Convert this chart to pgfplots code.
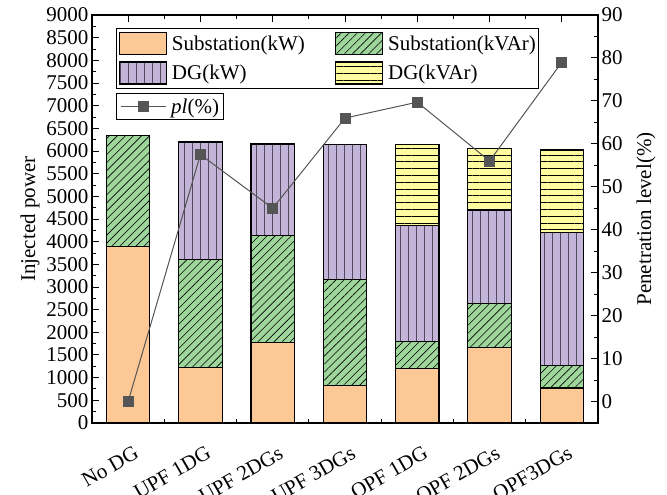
\documentclass[border=0pt]{standalone}
\usepackage{fontspec}
\setmainfont{Liberation Serif}
\usepackage{pgfplots}
\usepackage{pgfplotstable}
\pgfplotsset{compat=1.18}
\usetikzlibrary{patterns.meta}

\definecolor{subkw}{RGB}{251,200,150}
\definecolor{subkvar}{RGB}{158,214,155}
\definecolor{dgkw}{RGB}{196,180,215}
\definecolor{dgkvar}{RGB}{255,252,160}
\definecolor{plline}{RGB}{85,85,85}
\definecolor{vline}{RGB}{80,75,95}

% injected power (kW / kVAr) per case and DG penetration level (%)
\pgfplotstableread{
idx subkw subkvar dgkw dgkvar pl
0   3900  2450    0    0      0
1   1220  2380    2600 0      57.5
2   1780  2360    2015 0      45
3   820   2350    2965 0      66
4   1210  590     2560 1775   69.7
5   1670  970     2060 1360   56
6   770   490     2945 1815   79
}\powertable

\newcommand{\lblfont}{\fontsize{21}{25}\selectfont}

\pgfplotsset{
  barbox/.style={
    draw=black, line width=1.2pt,
    legend image code/.code={\draw[##1] (0pt,-11pt) rectangle (47pt,11pt);}
  },
  lineimage/.style={
    legend image code/.code={\draw[mark repeat=2, mark phase=2, ##1] plot coordinates {(0pt,0pt) (22.5pt,0pt) (45pt,0pt)};}
  },
}

\begin{document}
\begin{tikzpicture}[font=\lblfont]
\path[use as bounding box] (-92pt,-72pt) rectangle (575pt,423pt);
\begin{axis}[
  scale only axis, width=506pt, height=408pt,
  at={(0pt,0pt)}, anchor=south west,
  ybar stacked, bar width=0.6,
  xmin=-0.5, xmax=6.5, ymin=0, ymax=9000,
  xtick={0,...,6},
  xticklabels={No DG, UPF 1DG, UPF 2DGs, UPF 3DGs, OPF 1DG, OPF 2DGs, OPF3DGs},
  minor x tick num=1,
  ytick={0,500,...,9000}, minor y tick num=1,
  xtick pos=both, ytick pos=left,
  tick align=inside,
  major tick length=7pt, minor tick length=4pt,
  axis line style={line width=1.2pt},
  every tick/.style={line width=1pt, black},
  scaled y ticks=false,
  /pgf/number format/1000 sep={},
  /pgf/number format/assume math mode=true,
  tick label style={font=\lblfont},
  xticklabel style={xshift=5pt, yshift=-22pt, rotate=30, anchor=north east, inner sep=0pt},
  ylabel={Injected power},
  ylabel style={at={(axis description cs:-0.1225,0.5)}, anchor=center, font=\lblfont},
  legend columns=2,
  legend cell align=left,
  legend style={
    at={(0.047,0.967)}, anchor=north west,
    draw=black, fill=white, line width=0.8pt,
    inner xsep=2.6pt, inner ysep=3.4pt,
    nodes={inner sep=0pt, anchor=west},
    font=\lblfont,
    row sep=6pt,
    /tikz/every odd column/.append style={column sep=5pt},
    /tikz/every even column/.append style={column sep=30pt},
  },
]
\addplot[barbox, fill=subkw] table[x=idx, y=subkw]{\powertable};
\addlegendentry{Substation(kW)}
\addplot[barbox, fill=subkvar,
  postaction={pattern={Lines[angle=45, distance=5.7pt, line width=0.6pt]}, pattern color=black}]
  table[x=idx, y=subkvar]{\powertable};
\addlegendentry{Substation(kVAr)}
\addplot[barbox, fill=dgkw,
  postaction={pattern={Lines[angle=90, distance=8pt, line width=0.9pt]}, pattern color=vline}]
  table[x=idx, y=dgkw]{\powertable};
\addlegendentry{DG(kW)}
\addplot[barbox, fill=dgkvar,
  postaction={pattern={Lines[angle=0, distance=6.8pt, line width=0.7pt]}, pattern color=black}]
  table[x=idx, y=dgkvar]{\powertable};
\addlegendentry{DG(kVAr)}
\end{axis}

\begin{axis}[
  scale only axis, width=506pt, height=408pt,
  at={(0pt,0pt)}, anchor=south west,
  xmin=-0.5, xmax=6.5, ymin=-5, ymax=90,
  axis y line*=right, axis x line=none,
  ytick={0,10,...,90}, minor y tick num=1,
  tick align=inside,
  major tick length=7pt, minor tick length=4pt,
  axis line style={line width=1.2pt},
  every tick/.style={line width=1pt, black},
  /pgf/number format/assume math mode=true,
  tick label style={font=\lblfont},
  ylabel={Penetration level(\%)},
  ylabel style={at={(axis description cs:1.095,0.5)}, anchor=center, font=\lblfont},
  legend style={
    at={(0.047,0.808)}, anchor=north west,
    draw=black, fill=white, line width=0.8pt,
    inner xsep=4pt, inner ysep=5pt,
    nodes={inner sep=0pt, anchor=west},
    font=\lblfont,
    /tikz/every odd column/.append style={column sep=5pt},
  },
]
\addplot[plline, line width=1pt, mark=square*, mark size=5pt,
  mark options={fill=plline, draw=plline}, lineimage]
  table[x=idx, y=pl]{\powertable};
\addlegendentry{\textit{pl}(\%)}
\end{axis}
\end{tikzpicture}
\end{document}
